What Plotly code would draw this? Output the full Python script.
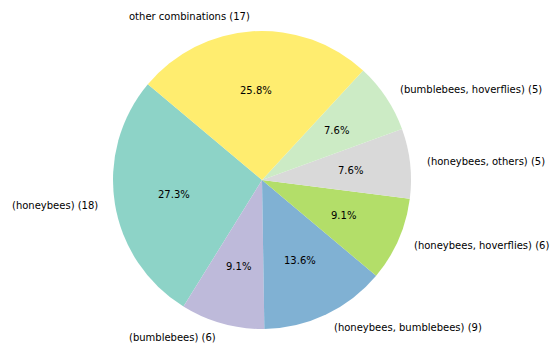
import math
import plotly.graph_objects as go

labels = ["(honeybees)", "(bumblebees)", "(honeybees, bumblebees)",
          "(honeybees, hoverflies)", "(honeybees, others)",
          "(bumblebees, hoverflies)", "other combinations"]
values = [18, 6, 9, 6, 5, 5, 17]
colors = ["#8dd3c7", "#bebada", "#80b1d3", "#b3de69", "#d9d9d9", "#ccebc5", "#ffed6f"]

W, H = 550, 345
cx, cy, R = 262, 180, 149
start_angle = 140  # degrees, counterclockwise from 3 o'clock

total = sum(values)
# plotly (counterclockwise): first slice's ccw end sits at the rotation point
first_end = start_angle + 360 * values[0] / total
rotation = 90 - first_end

fig = go.Figure(go.Pie(
    labels=labels, values=values, sort=False, direction="counterclockwise",
    rotation=rotation, marker=dict(colors=colors, line=dict(width=0)),
    textinfo="none", hoverinfo="skip", showlegend=False,
    domain=dict(x=[(cx - R) / W, (cx + R) / W], y=[(H - cy - R) / H, (H - cy + R) / H]),
))

ann = []
a = start_angle
for lab, v in zip(labels, values):
    span = 360 * v / total
    mid = math.radians(a + span / 2)
    a += span
    c, s = math.cos(mid), math.sin(mid)
    lx = cx + 1.1 * R * c
    ly = cy - 1.1 * R * s
    ann.append(dict(x=lx / W, y=1 - ly / H, xref="paper", yref="paper",
                    text=f"{lab} ({v})", showarrow=False,
                    xanchor="left" if c > 0 else "right", yanchor="middle",
                    font=dict(size=10, color="#000", family="DejaVu Sans")))
    px = cx + 0.6 * R * c
    py = cy - 0.6 * R * s
    ann.append(dict(x=px / W, y=1 - py / H, xref="paper", yref="paper",
                    text=f"{100 * v / total:.1f}%", showarrow=False,
                    xanchor="center", yanchor="middle",
                    font=dict(size=10, color="#000", family="DejaVu Sans")))

fig.update_layout(width=W, height=H, margin=dict(l=0, r=0, t=0, b=0),
                  paper_bgcolor="white", plot_bgcolor="white", annotations=ann)
fig.write_html("out.html", config={"displayModeBar": False},
               post_script="document.body.style.margin='0';document.body.style.overflow='hidden';")
